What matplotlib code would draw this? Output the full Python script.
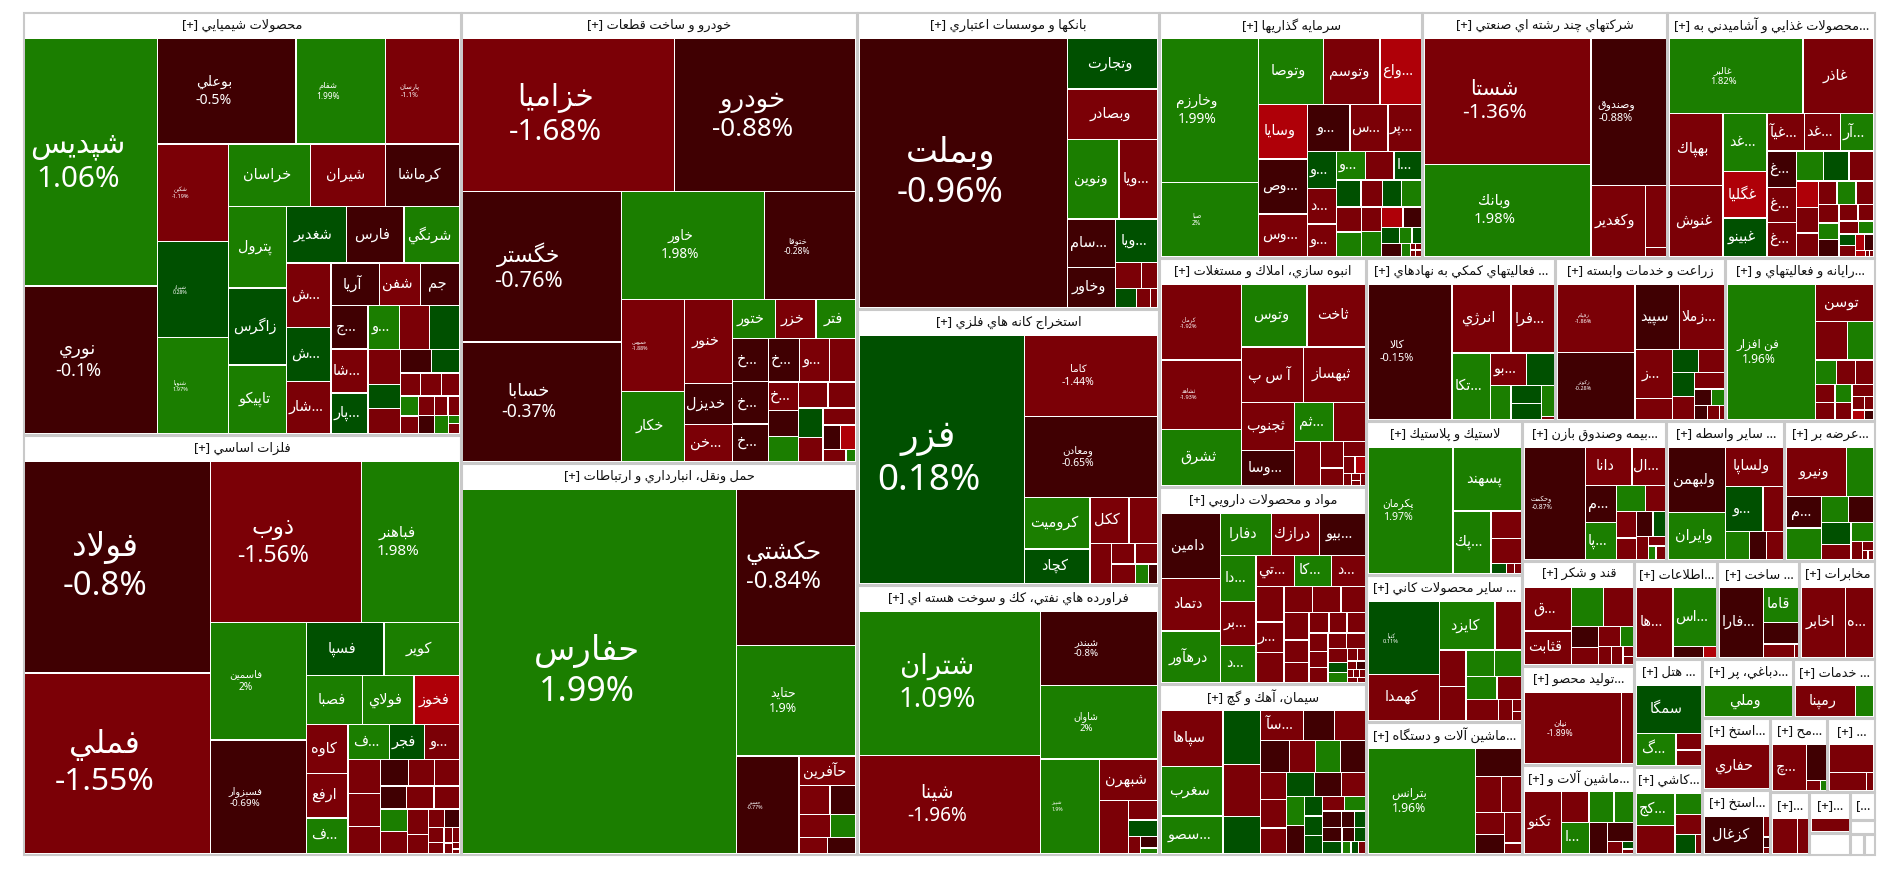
import matplotlib
matplotlib.use("Agg")
import matplotlib.pyplot as plt
from matplotlib.patches import Rectangle

# ---------- data: (names, values, percent changes), one group per sector ----------
SECTOR_TITLES = ["محصولات شيميايي [+]","فلزات اساسي [+]","خودرو و ساخت قطعات [+]","حمل ونقل، انبارداري و ارتباطات [+]",
 "بانكها و موسسات اعتباري [+]","استخراج كانه هاي فلزي [+]","فراورده هاي نفتي، كك و سوخت هسته اي [+]",
 "سرمايه گذاريها [+]","شركتهاي چند رشته اي صنعتي [+]","...محصولات غذايي و آشاميدني به [+]",
 "انبوه سازي، املاك و مستغلات [+]","مواد و محصولات دارويي [+]","سيمان، آهك و گچ [+]",
 "... فعاليتهاي كمكي به نهادهاي [+]","زراعت و خدمات وابسته [+]","...رايانه و فعاليتهاي و [+]",
 "لاستيك و پلاستيك [+]","... ساير محصولات كاني [+]","...ماشين آلات و دستگاه [+]",
 "...بيمه وصندوق بازن [+]","... ساير واسطه [+]","...عرضه بر [+]",
 "قند و شكر [+]","...توليد محصو [+]","...ماشين آلات و [+]",
 "...اطلاعات [+]","... ساخت [+]","مخابرات [+]",
 "... هتل [+]","...كاشي [+]","...دباغي، پر [+]","... خدمات [+]",
 "...استخ [+]","...استخ [+]","...مح [+]","... [+]",
 "...[+]","...[+]","","...]","","",""]
SECTOR_VALUES = [185274,183960,178596,155232,89694,83352,81540,64698,60270,50922,47403,40779,35397,
 30807,27710,24287,24024,22932,20748,20160,16520,12600,11760,11088,10080,8134,8036,7350,7344,5984,
 5369,4779,4896,4420,4218,3478,2457,1681,902,672,336,294,210]

CHEM_N = ["شپديس","نوري","بوعلي","شفام","پارسان","شكپن","شيراز","شنوپا","خراسان","شيران","كرماشا","پترول","زاگرس","تاپيكو","شغدير","فارس","شرنگي","...ش","...ش","...شار","آريا","شفن","جم","...ج","...شا","...پار","...و"]
CHEM_V = [294,175,130.5,84,70,62,61,61,46,42,41.5,42,39.6,35.4,30,29,28,25.7,21.7,20.6,18.4,15.4,14.9,14.5,14.5,13.4,12.4,12,11.9,10,6.9,7.3,6.5,5.8,4.2,4.2,3.8,3.2,2.8,2.8,2.6,2.4,2.1,2.2,.8,1]
CHEM_P = [1.06,-0.1,-0.5,1.99,-1.1,-1.19,0.28,1.97,1.5,-1.5,-0.5,1.5,0.5,1.5,0.5,-0.5,1.5,-1.5,0.5,-1.5,-0.5,-1.5,-0.5,-0.5,-1.5,0.5,1.5,-1.5,0.5,-1.5,0.5,-1.5,-0.5,0.5,-1.5,-1.5,-1.5,1.5,-1.5,-1.5,-0.5,-1.5,-1.5,1.5,1.5,-1.5]

METAL_N = ["فولاد","فملي","ذوب","فباهنر","فاسمين","فسبزوار","فسپا","كوير","فصبا","فولاي","فخوز","كاوه","ارفع","...ف","...ف","فجر","...و"]
METAL_V = [351,300,217,141.6,100,97,36.6,35.8,24.6,22.5,20,18,16.6,13.2,13,10.8,11,9.8,9.5,7.8,6.6,6.2,5.9,5.4,5.6,5.3,5.4,5.3,4.8,3.6,2.7,2.5,2.1,1.5,1.15,.8,1,.4,.3]
METAL_P = [-0.8,-1.55,-1.56,1.98,2,-0.69,0.5,1.5,1.5,1.5,-2.5,-1.5,-1.5,1.5,1.5,0.5,-1.5,-1.5,-1.5,-1.5,-0.5,-1.5,-1.5,-0.5,-1.5,-1.5,1.5,-1.5,-1.5,-1.5,-1.5,-0.5,-1.5,-1.5,-1.5,-1.5,-1.5,-1.5,-1.5]

AUTO_N = ["خزاميا","خودرو","خگستر","خسابا","خاور","ختوقا","خموس","خكار","خنور","خديزل","...خن","ختور","خزر","فتر","...خ","...خ","...خ","...خ","...و","","...خ"]
AUTO_V = [286,244.5,210,167,137,87,51,39,35.7,17.7,15.7,14.6,14,13.8,13.6,13.3,11.9,11.9,11.2,10.2,7.6,6.9,6.6,6.7,6.4,6.3,5.1,4.9,3.8,3.4,2.4,1.05]
AUTO_P = [-1.68,-0.88,-0.76,-0.37,1.98,-0.28,-1.88,1.5,-1.5,-0.5,-1.5,1.5,-1.5,1.5,-0.5,-0.5,-0.5,-0.5,-1.5,-1.5,-1.5,-0.5,1.5,-1.5,-1.5,0.5,-1.5,-1.5,-0.5,-2.5,-1.5,1.5]

TRANS_N = ["حفارس","حكشتي","حتايد","حسير","حآفرين"]
TRANS_V = [670,125,89,41,11.2,6,5,5,4,3,3]
TRANS_P = [1.99,-0.84,1.9,-0.77,-1.5,-1.5,-0.5,-1.5,1.5,-1.5,-0.5]

BANK_N = ["وبملت","وتجارت","وبصادر","ونوين","...ويا","...سام","وخاور","...ويا"]
BANK_V = [497,40.5,40.5,36,27.5,20.6,16.8,16.3,6,3.8,3.5,2.4,1.3]
BANK_P = [-0.96,0.5,-1.5,1.5,-1.5,-0.5,-0.5,0.5,-1.5,-1.5,0.5,-1.5,-1.5]

MINE_N = ["فزر","كاما","ومعادن","كروميت","كچاد","ككل"]
MINE_V = [336,89,89,27.6,18.7,14.6,10.9,7.1,3.9,3.9,3.8,2.1,1.5]
MINE_P = [0.18,-1.44,-0.65,1.5,0.5,-1.5,-1.5,-1.5,-1.5,-1.5,-1.5,1.5,-0.5]

REFI_N = ["شتران","شينا","شبندر","شاوان","شپيز","شبهرن"]
REFI_V = [213,145,71,70.6,45.4,19.8,12.4,4.7,4.1,1.7,1.6,.8]
REFI_P = [1.09,-1.96,-0.8,2,1.9,-1.5,-1.5,-1.5,0.5,-1.5,-0.5,1.5]

INV_N = ["وخارزم","صبا","وتوصا","وتوسم","...واع","وسايا","...وص","...وس","...و","...س","...پر","...و","...د","...و","...و","","...ا"]
INV_V = [122,62.6,37.4,32.3,23.7,23.6,23.6,18.3,17.3,15.6,13.6,9.3,8.9,8.1,7.2,7.2,6.8,5.8,5,4.6,4.6,5.5,5.4,4.3,4.3,3.9,3.3,2.5,1.7,1.3,2.2,1,.3,.3,.3,.3]
INV_P = [1.99,2,1.5,-1.5,-2.5,-2.5,-0.5,-1.5,-0.5,-1.5,-1.5,0.5,-1.5,-1.5,1.5,-1.5,0.5,0.5,-1.5,0.5,1.5,-1.5,1.5,-1.5,1.5,-2.5,-0.5,0.5,1.5,0.5,-0.5,1.5,-1.5,-1.5,-1.5,-1.5]

MULTI_N = ["شستا","وبانك","وصندوق","وكغدير"]
MULTI_V = [183,133,96,33.6,11.3,1.6]
MULTI_P = [-1.36,1.98,-0.88,-1.5,-1.5,-1.5]

FOOD_N = ["غالبر","غاذر","بهپاك","غنوش","...غد","غگليا","غبينو","...غيآ","...غد","...آر","...غ","...غ","...غ"]
FOOD_V = [83.4,44,32,31.6,21,17,14.1,11.7,11,10.3,8.9,8.7,8.4,6.6,6.4,6.1,4.7,4.5,4.2,3.7,3.7,3.4,3.2,2.9,2.9,2.6,2.1,2.1,1.6,1.5,1.5,1.3,1.2,.5,.2,.2]
FOOD_P = [1.82,-1.5,-1.5,-1.5,1.5,-2.5,0.5,-1.5,-1.5,1.5,-0.5,-1.5,-1.5,1.5,0.5,-1.5,-2.5,-1.5,-1.5,-1.5,1.5,-1.5,-1.5,1.5,-0.5,-1.5,-1.5,-1.5,1.5,0.5,-1.5,-2.5,-0.5,-2.5,-1.5,-1.5]

MASS_N = ["كرمان","ثشاهد","ثشرق","وتوس","ثاخت","آ س پ","ثبهساز","ثجنوب","...وسا","...ثم"]
MASS_V = [52,47.8,38.4,35,31,29.4,29.3,21.7,16,12.9,10.6,9.7,5.2,3.4,2.9,1.7,1.5,.8,.5,.4,.5]
MASS_P = [-1.92,-1.93,1.5,1.5,-1.5,-1.5,-1.5,-1.5,-0.5,1.5,-1.5,-1.5,-1.5,-1.5,-1.5,-1.5,-2.5,-1.5,-1.5,-1.5,-1.5]

PHAR_N = ["دامين","دتماد","درهآور","دفارا","درازك","...بيو","...دا","...بر","...د","...تي","...كا","...د","","...ر"]
PHAR_V = [32,26,25.5,17.6,16.8,15.9,13.5,12.7,10.9,9.7,9.5,8.5,8.3,7,7,6.2,6.2,5.3,5.7,4.6,4.2,3.4,3.1,3.1,2.9,2.5,2.4,2.4,2.4,2.2,1.7,1.6,1,.8,.6,.6,.4,.4,.4,.4,.3]
PHAR_P = [-0.5,-1.5,1.5,1.5,-1.5,-0.5,1.5,-1.5,1.5,-1.5,1.5,-1.5,-1.5,-1.5,-1.5,-1.5,-1.5,-1.5,-1.5,-1.5,-1.5,-1.5,-1.5,-1.5,-1.5,-1.5,-1.5,-1.5,-1.5,-1.5,0.5,1.5,-1.5,-1.5,-1.5,-0.5,-1.5,-1.5,-1.5,-1.5,-1.5]

CEM_N = ["سپاها","سغرب","...سصو","","","","...سآ"]
CEM_V = [29.2,25.7,19.5,16.9,16.4,11.6,11,7.8,7.8,7.8,6.8,6.8,6.5,6,6.2,5.6,5.6,5.4,4.8,4.5,4.3,3,3,2.7,2.7,2.6,2.6,1.7,1.5,2.3,1.5,1.3,1.9,.9,.7,.7]
CEM_P = [-1.5,1.5,1.5,0.5,-1.5,0.5,-1.5,-0.5,-1.5,-0.5,-1.5,1.5,-0.5,-1.5,-1.5,-1.5,0.5,-0.5,-1.5,1.5,-0.5,0.5,0.5,0.5,-1.5,1.5,-0.5,-0.5,0.5,-0.5,-0.5,0.5,0.5,1.5,0.5,-1.5]

SUPP_N = ["كالا","انرژي","...فرا","...تكا","...بو"]
SUPP_V = [94.4,33.9,24.8,21.4,9.8,7.5,5.9,4.5,4.1,3.4,.3]
SUPP_P = [-0.15,-1.5,-1.5,1.5,-1.5,0.5,1.5,0.5,0.5,1.5,-1.5]

AGRI_N = ["زقيام","زكوثر","سپيد","...زملا","...ز"]
AGRI_V = [43.6,43,24,24,15,6.4,5,4.9,4.4,4.3,4,2.3,1.8,1.5,1.3,.6]
AGRI_P = [-1.86,-0.28,-0.5,-1.5,-1.5,-1.5,0.5,-1.5,0.5,-1.5,-1.5,-0.5,1.5,-0.5,-1.5,-1.5]

COMP_N = ["فن افزار","توسن"]
COMP_V = [98,17.7,10.4,8.2,4.2,3.9,3.6,3,2.7,2.6,2.4,2.1,1.4,1,1,.7]
COMP_P = [1.96,-1.5,-1.5,1.5,1.5,-1.5,-1.5,-1.5,-1.5,1.5,-1.5,-1.5,-1.5,-1.5,-2.5,-0.5]

RUBB_N = ["پكرمان","پسهند","...پك"]
RUBB_V = [84,34,18.6,6.6,6,1.2,.6,.5]
RUBB_P = [1.97,1.5,1.5,-1.5,-1.5,0.5,-1.5,-1.5]

NONM_N = ["كنيا","كهمدا","كايزد"]
NONM_V = [44,27.7,22.6,10.7,8,7.5,6.4,5.9,6,4.7,5.8,2.5,.9,.7]
NONM_P = [0.11,-1.5,1.5,-1.5,-1.5,-1.5,1.5,1.5,1.5,-1.5,-1.5,-1.5,-1.5,-1.5]

MACH_N = ["بترانس"]
MACH_V = [97,11,8.1,6.3,5.5,4.8,4.3,1.5]
MACH_P = [1.96,-0.5,-1.5,-1.5,-1.5,-0.5,-1.5,-1.5]

INS_N = ["وحكمت","دانا","...ال","...م","...پا"]
INS_V = [54.4,14.1,10.1,9.4,9.2,6,4.1,4.2,3.4,3.3,2.5,2.3,1.3,.8,1]
INS_P = [-0.87,-1.5,-1.5,-0.5,1.5,1.5,-1.5,-1.5,-1.5,-0.5,0.5,-1.5,-1.5,1.5,-1.5]

INTM_N = ["ولبهمن","وايران","ولساپا","...و"]
INTM_V = [30,21.6,18,13.7,7.5,5.4,3.7,3.8]
INTM_P = [-0.5,1.5,-1.5,0.5,-1.5,1.5,-0.5,-1.5]

SUPL_N = ["ونيرو","","...م"]
SUPL_V = [23.2,10.4,8.6,8.6,5.6,5.2,5.1,3.5,3.3,1.6,.8,.4,.4]
SUPL_P = [-1.5,1.5,-0.5,1.5,1.5,-0.5,0.5,-1.5,1.5,-1.5,-1.5,-1.5,-1.5]

SUGR_N = ["...ق","قثابت"]
SUGR_V = [16.8,13,10.3,9.7,4.6,3.8,3.6,2.1,1.9,1.7,.8,.7]
SUGR_P = [-1.5,-1.5,1.5,-1.5,-0.5,-1.5,-1.5,1.5,-1.5,-1.5,-1.5,-1.5]

PROD_N = ["نيان"]
PROD_V = [58.5,7.3]
PROD_P = [-1.89,-1.5]

MCH2_N = ["تكنو","","","","...ا"]
MCH2_V = [18.7,6.8,6.2,4.8,7,4.5,4,1.5,.65,.4]
MCH2_P = [-1.5,-1.5,1.5,1.5,1.5,-0.5,-0.5,-1.5,0.5,-1.5]

INFO_N = ["...ها","...اس"]
INFO_V = [23,23,2.9,1.25]
INFO_P = [-1.5,1.5,-0.5,-2.5]

CONS_N = ["...فارا","قاما"]
CONS_V = [26.6,10.5,6.5,3.6,.5]
CONS_P = [-0.5,1.5,-0.5,-1.5,-1.5]

TELE_N = ["اخابر","...ه"]
TELE_V = [27.3,17.5]
TELE_P = [-1.5,-1.5]

HOTL_N = ["سمگا","...گ"]
HOTL_V = [26.6,10.7,3.5,3.3]
HOTL_P = [0.5,1.5,-1.5,-1.5]

TILE_N = ["...كج"]
TILE_V = [10.3,9,4.6,4.5,3.3,.9]
TILE_P = [1.5,-1.5,1.5,-1.5,0.5,-1.5]

LEAT_N = ["وملي"]
LEAT_V = [10]
LEAT_P = [1.5]

SERV_N = ["رمپنا"]
SERV_V = [175,52]
SERV_P = [-1.5,1.5]

MIN2_N = ["حفاري"]
MIN2_V = [10]
MIN2_P = [-1.5]

MIN3_N = ["كزغال"]
MIN3_V = [18.7,1,.5,.3]
MIN3_P = [-0.5,-1.5,-0.5,-1.5]

MAHS_N = ["...چ"]
MAHS_V = [13,6,1.2,.5]
MAHS_P = [-1.5,-0.5,-1.5,1.5]

OTHR_V = [10.7,5.6,1.1]
OTHR_P = [-1.5,-1.5,-1.5]
SML1_V = [7.2,3.2]
SML1_P = [-1.5,-1.5]
SML2_V = [1]
SML2_P = [-1.5]

# ---------- label sizes (px) for cells that also show their percent ----------
PCT_FONT = {"شپديس":28,"نوري":17,"بوعلي":13.3,"شفام":7.9,"پارسان":6.5,"شكپن":5.3,"شيراز":5,"شنوپا":5.4,
 "فولاد":31,"فملي":30,"ذوب":21.7,"فباهنر":14.3,"فاسمين":9.6,"فسبزوار":9.2,
 "خزاميا":28,"خودرو":24.5,"خگستر":20.5,"خسابا":16.5,"خاور":12.9,"ختوقا":8,"خموس":5,
 "حفارس":32,"حكشتي":22.5,"حتايد":11.9,"حسير":5,
 "وبملت":32,"فزر":34.6,"كاما":9.8,"ومعادن":9.8,"شتران":25.9,"شينا":18,"شبندر":9.2,"شاوان":9,"شپيز":4.9,
 "وخارزم":13,"صبا":6.2,"شستا":19.4,"وبانك":14,"وصندوق":10.4,"غالبر":8.9,"كرمان":5.3,"ثشاهد":5.3,
 "كالا":10.4,"زقيام":5.2,"زكوثر":5.2,"فن افزار":11.3,"پكرمان":10,"وحكمت":6.3,"كنيا":5.4,"نيان":8,"بترانس":11.5}
PCT_SCALE = 1.06
NAME_PX = 14.5
TITLE_PX = 13
FAMILY = ["Noto Sans", "DejaVu Sans"]
GREEN, DKGREEN, DARK, RED, BRIGHT = "#1b7e00", "#005000", "#400002", "#7b0006", "#af0008"

# ---------- layout hints: each token = orientation + number of cells in the strip ----------
TOP_STRIPS = "c2 c2 c3 r3 c3 r3 c3 r3 c3 r3 c2 r2 c2 r2 c1 c2 r1 r1 c1 c1"
GROUPS = [
 (CHEM_N,CHEM_V,CHEM_P,"c2 r3 c3 r3 c3 r3 c3 r3 c3 r3 c3 r2 r3 c2 c2 r2 c1 c2"),
 (METAL_N,METAL_V,METAL_P,"c2 r2 c2 r2 r3 c3 r3 c3 r3 r3 c2 c2 r2 c2 c2 c3"),
 (AUTO_N,AUTO_V,AUTO_P,"r2 c2 r2 c2 c3 r3 c3 r3 c3 r2 c2 r1 r2 r2"),
 (TRANS_N,TRANS_V,TRANS_P,"c1 r1 r1 c1 r1 r2 r2 r2"),
 (BANK_N,BANK_V,BANK_P,"c1 r1 r1 r2 c2 r1 r2 r3"),
 (MINE_N,MINE_V,MINE_P,"c1 r1 r1 c2 r2 c1 r2 r3"),
 (REFI_N,REFI_V,REFI_P,"c2 r1 r1 c1 r1 c1 r1 r1 c1 r1 r1"),
 (INV_N,INV_V,INV_P,"c2 r3 c3 r3 c3 r3 r4 c2 c2 r2 r3 c1 c1 r2 r2"),
 (MULTI_N,MULTI_V,MULTI_P,"c2 r1 c1 r1 r1"),
 (FOOD_N,FOOD_V,FOOD_P,"r2 c2 c3 r3 c3 r3 c3 r3 c3 r2 r2 c2 r2 r3"),
 (MASS_N,MASS_V,MASS_P,"c3 r2 r2 c2 r2 c1 c2 r1 r2 c1 c2 c1"),
 (PHAR_N,PHAR_V,PHAR_P,"c3 r3 c3 r3 c3 r3 c3 r3 c3 r2 c3 r2 r2 r3 r2"),
 (CEM_N,CEM_V,CEM_P,"c3 c3 r3 r4 c3 r3 c2 c3 r2 r3 r3 r4"),
 (SUPP_N,SUPP_V,SUPP_P,"c1 r2 c1 r2 c1 c2 r1 r1"),
 (AGRI_N,AGRI_V,AGRI_P,"c2 r2 c2 r2 c2 r1 r2 r3"),
 (COMP_N,COMP_V,COMP_P,"c1 r1 r2 r3 c2 c2 r1 r2 r2"),
 (RUBB_N,RUBB_V,RUBB_P,"c1 r1 c1 r1 r1 r3"),
 (NONM_N,NONM_V,NONM_P,"c2 r2 c2 r2 r2 c1 c1 r1 r1"),
 (MACH_N,MACH_V,MACH_P,"c1 r1 r2 c2 r1 r1"),
 (INS_N,INS_V,INS_P,"c1 r2 c2 r2 c2 r2 c1 r1 r2"),
 (INTM_N,INTM_V,INTM_P,"c2 r1 r2 r3"),
 (SUPL_N,SUPL_V,SUPL_P,"r2 c2 r2 c2 r1 c1 r1 r2"),
 (SUGR_N,SUGR_V,SUGR_P,"c2 r2 c2 r2 c1 c1 r1 r1"),
 (PROD_N,PROD_V,PROD_P,"c1 c1"),
 (MCH2_N,MCH2_V,MCH2_P,"c1 r3 c1 c1 r1 c1 r1 r1"),
 (INFO_N,INFO_V,INFO_P,"c1 r1 r2"),
 (CONS_N,CONS_V,CONS_P,"c1 r1 r1 r2"),
 (TELE_N,TELE_V,TELE_P,"c1 c1"),
 (HOTL_N,HOTL_V,HOTL_P,"r1 c1 r1 r1"),
 (TILE_N,TILE_V,TILE_P,"c2 r1 r1 r2"),
 (LEAT_N,LEAT_V,LEAT_P,"c1"),
 (SERV_N,SERV_V,SERV_P,"c1 c1"),
 (MIN2_N,MIN2_V,MIN2_P,"c1"),
 (MIN3_N,MIN3_V,MIN3_P,"c1 r1 r1 r1"),
 (MAHS_N,MAHS_V,MAHS_P,"c1 r1 r2"),
 ([],OTHR_V,OTHR_P,"r1 r2"),
 ([],SML1_V,SML1_P,"c1 c1"),
 ([],SML2_V,SML2_P,"c1"),
 None,None,None,None,None,
]
BOX = (23.0, 12.0, 1875.0, 855.0)

# ---------- Arabic shaping (matplotlib has no text shaping) ----------
FOUR = {"ب":0xFE8F,"ت":0xFE95,"ث":0xFE99,"ج":0xFE9D,"ح":0xFEA1,"خ":0xFEA5,"س":0xFEB1,"ش":0xFEB5,"ص":0xFEB9,
 "ض":0xFEBD,"ط":0xFEC1,"ظ":0xFEC5,"ع":0xFEC9,"غ":0xFECD,"ف":0xFED1,"ق":0xFED5,"ك":0xFED9,"ل":0xFEDD,"م":0xFEE1,
 "ن":0xFEE5,"ه":0xFEE9,"ي":0xFEF1,"پ":0xFB56,"چ":0xFB7A,"گ":0xFB92,"ک":0xFB8E,"ی":0xFBFC}
TWO = {"ا":0xFE8D,"آ":0xFE81,"أ":0xFE83,"إ":0xFE87,"د":0xFEA9,"ذ":0xFEAB,"ر":0xFEAD,"ز":0xFEAF,"و":0xFEED,"ژ":0xFB8A}
LIG = {"ا":0xFEFB,"آ":0xFEF5,"أ":0xFEF7,"إ":0xFEF9}
MIRROR = {"[":"]","]":"["}

def shape(s):
    out, i, n = [], 0, len(s)
    while i < n:
        c = s[i]
        prev_joins = i > 0 and s[i-1] in FOUR
        if c == "ل" and i + 1 < n and s[i+1] in LIG:
            out.append(chr(LIG[s[i+1]] + (1 if prev_joins else 0))); i += 2; continue
        if c in FOUR:
            nxt = i + 1 < n and (s[i+1] in FOUR or s[i+1] in TWO)
            form = (3 if nxt else 1) if prev_joins else (2 if nxt else 0)
            out.append(chr(FOUR[c] + form))
        elif c in TWO:
            out.append(chr(TWO[c] + (1 if prev_joins else 0)))
        else:
            out.append(MIRROR.get(c, c))
        i += 1
    return "".join(reversed(out))

def colour(p):
    if p < -2: return BRIGHT
    if p < -1: return RED
    if p < 0: return DARK
    if p < 1: return DKGREEN
    return GREEN

def layout(values, strips, x0, y0, x1, y1):
    rects, i = [], 0
    rest = float(sum(values))
    for tok in strips.split():
        k = int(tok[1:])
        part = values[i:i+k]
        s = float(sum(part))
        if tok[0] == "c":
            w = (x1 - x0) * s / rest
            y = y0
            for v in part:
                h = (y1 - y0) * v / s
                rects.append((x0, y, x0 + w, y + h)); y += h
            x0 += w
        else:
            h = (y1 - y0) * s / rest
            x = x0
            for v in part:
                w = (x1 - x0) * v / s
                rects.append((x, y0, x + w, y0 + h)); x += w
            y0 += h
        rest -= s; i += k
    assert i == len(values), (strips, i, len(values))
    return rects

fig = plt.figure(figsize=(19, 8.73), dpi=100, facecolor="white")
ax = fig.add_axes([0, 0, 1, 1])
ax.set_xlim(0, 1900); ax.set_ylim(873, 0); ax.axis("off")
PT = 0.72

sectors = layout(SECTOR_VALUES, TOP_STRIPS, *BOX)

for title, grp, (x0, y0, x1, y1) in zip(SECTOR_TITLES, GROUPS, sectors):
    ax.add_patch(Rectangle((x0 + .5, y0 + .5), x1 - x0 - 1, y1 - y0 - 1, fc="white", ec="#c9c9c9", lw=1.5))
    if title:
        ax.text((x0 + x1) / 2, y0 + 13.5, shape(title), ha="center", va="center", color="#111111",
                fontsize=TITLE_PX * PT, family=FAMILY, clip_on=True,
                clip_path=Rectangle((x0, y0), x1 - x0, 26, transform=ax.transData))
    if grp is None:
        continue
    names, vals, pcts, strips = grp
    assert len(vals) == len(pcts), names
    rects = layout(vals, strips, x0 + 1.5, y0 + 26.5, x1 - 1.5, y1 - 1.5)
    names = list(names) + [""] * (len(vals) - len(names))
    for nm, p, (a, b, c, d) in zip(names, pcts, rects):
        ax.add_patch(Rectangle((a + .65, b + .65), max(c - a - 1.3, .3), max(d - b - 1.3, .3),
                               fc=colour(p), ec="none", lw=0))
        cx, cy = (a + c) / 2, (b + d) / 2
        if nm in PCT_FONT:
            ax.text(cx - 13, cy, shape(nm) + "\n" + f"{p:g}%", ha="center", va="center", color="white",
                    fontsize=PCT_FONT[nm] * PCT_SCALE * PT, family=FAMILY, linespacing=1.25)
        elif nm:
            ax.text(cx - 3, cy, shape(nm), ha="center", va="center", color="white",
                    fontsize=NAME_PX * PT, family=FAMILY)

fig.savefig("out.png", dpi=100, facecolor="white")
